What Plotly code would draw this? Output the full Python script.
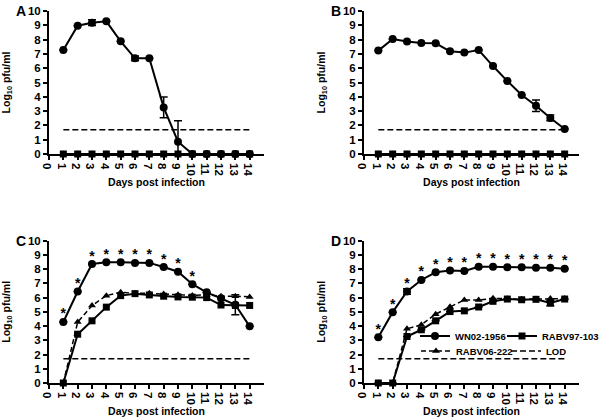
import plotly.graph_objects as go

days = [1, 2, 3, 4, 5, 6, 7, 8, 9, 10, 11, 12, 13, 14]
x_ticks = [0, 1, 2, 3, 4, 5, 6, 7, 8, 9, 10, 11, 12, 13, 14]
y_ticks = [0, 1, 2, 3, 4, 5, 6, 7, 8, 9, 10]
lod_days = [1, 14]
lod_values = [1.7, 1.7]

# Panel A
a_wn02 = [7.27, 8.97, 9.18, 9.28, 7.88, 6.69, 6.69, 3.26, 0.86, 0, 0, 0, 0, 0]
a_wn02_err_plus = [0, 0, 0.2, 0, 0, 0.17, 0, 0.73, 1.47, 0, 0, 0, 0, 0]
a_wn02_err_minus = [0, 0, 0.2, 0, 0, 0.17, 0, 0.73, 0.86, 0, 0, 0, 0, 0]
a_rabv97 = [0, 0, 0, 0, 0, 0, 0, 0, 0, 0, 0, 0, 0, 0]
a_rabv06 = [0, 0, 0, 0, 0, 0, 0, 0, 0, 0, 0, 0, 0, 0]

# Panel B
b_wn02 = [7.23, 8.04, 7.86, 7.76, 7.74, 7.18, 7.09, 7.27, 6.15, 5.1, 4.13, 3.38, 2.52, 1.75]
b_wn02_err = [0, 0, 0, 0, 0, 0, 0, 0, 0, 0, 0, 0.4, 0.2, 0]
b_rabv97 = [0, 0, 0, 0, 0, 0, 0, 0, 0, 0, 0, 0, 0, 0]
b_rabv06 = [0, 0, 0, 0, 0, 0, 0, 0, 0, 0, 0, 0, 0, 0]

# Panel C
c_wn02 = [4.29, 6.43, 8.36, 8.48, 8.48, 8.44, 8.44, 8.15, 7.82, 6.94, 6.37, 5.95, 5.5, 3.98]
c_wn02_err = [0, 0, 0, 0, 0, 0, 0, 0, 0, 0, 0, 0, 0.7, 0]
c_rabv97 = [0, 3.43, 4.37, 5.33, 6.14, 6.28, 6.19, 6.1, 6.05, 6.03, 6.0, 5.48, 5.45, 5.45]
c_rabv06 = [0, 4.28, 5.44, 6.14, 6.38, 6.3, 6.3, 6.25, 6.2, 6.15, 6.2, 6.1, 6.1, 6.05]
c_signif_days = [1, 2, 3, 4, 5, 6, 7, 8, 9, 10]
c_signif_vals = [4.29, 6.43, 8.36, 8.48, 8.48, 8.44, 8.44, 8.15, 7.82, 6.94]

# Panel D
d_wn02 = [3.22, 4.98, 6.43, 7.24, 7.78, 7.9, 7.87, 8.17, 8.17, 8.13, 8.13, 8.1, 8.1, 8.03]
d_wn02_err = [0, 0, 0.2, 0, 0, 0, 0, 0, 0, 0, 0, 0, 0, 0]
d_rabv97 = [0, 0, 3.27, 3.74, 4.37, 5.02, 5.07, 5.34, 5.74, 5.9, 5.85, 5.88, 5.62, 5.9]
d_rabv97_err = [0, 0, 0, 0, 0, 0, 0, 0, 0, 0, 0, 0, 0.2, 0]
d_rabv06 = [0, 0, 3.81, 4.09, 4.84, 5.35, 5.84, 5.83, 5.95, 5.92, 5.88, 5.9, 5.93, 5.93]
d_signif_days = [1, 2, 3, 4, 5, 6, 7, 8, 9, 10, 11, 12, 13, 14]
d_signif_vals = [3.22, 4.98, 6.43, 7.24, 7.78, 7.9, 7.87, 8.17, 8.17, 8.13, 8.13, 8.1, 8.1, 8.03]

FONT = "Liberation Sans, Arial, sans-serif"
BLACK = "#000000"

panels = [
    dict(name="A", xa="x", ya="y", wn=a_wn02, wn_ep=a_wn02_err_plus, wn_em=a_wn02_err_minus,
         r97=a_rabv97, r97_e=None, r06=a_rabv06, sig=None),
    dict(name="B", xa="x2", ya="y2", wn=b_wn02, wn_ep=b_wn02_err, wn_em=b_wn02_err,
         r97=b_rabv97, r97_e=None, r06=b_rabv06, sig=None),
    dict(name="C", xa="x3", ya="y3", wn=c_wn02, wn_ep=c_wn02_err, wn_em=c_wn02_err,
         r97=c_rabv97, r97_e=None, r06=c_rabv06, sig=(c_signif_days, c_signif_vals)),
    dict(name="D", xa="x4", ya="y4", wn=d_wn02, wn_ep=d_wn02_err, wn_em=d_wn02_err,
         r97=d_rabv97, r97_e=d_rabv97_err, r06=d_rabv06, sig=(d_signif_days, d_signif_vals)),
]

fig = go.Figure()

def err(arr_p, arr_m):
    return dict(type="data", array=arr_p, arrayminus=arr_m, symmetric=False,
                color=BLACK, thickness=1.5, width=4, visible=True)

for p in panels:
    is_d = p["name"] == "D"
    fig.add_trace(go.Scatter(
        x=lod_days, y=lod_values, mode="lines", name="LOD",
        line=dict(color=BLACK, width=1.5, dash="6px,3px"),
        xaxis=p["xa"], yaxis=p["ya"], showlegend=is_d,
        legend="legend4", cliponaxis=False))
    fig.add_trace(go.Scatter(
        x=days, y=p["r06"], mode="lines+markers", name="RABV06-222",
        line=dict(color=BLACK, width=1.5, dash="5px,3px"),
        marker=dict(symbol="triangle-up", size=7, color=BLACK),
        xaxis=p["xa"], yaxis=p["ya"], showlegend=is_d,
        legend="legend3", cliponaxis=False))
    fig.add_trace(go.Scatter(
        x=days, y=p["r97"], mode="lines+markers", name="RABV97-103",
        line=dict(color=BLACK, width=2),
        marker=dict(symbol="square", size=7, color=BLACK),
        error_y=err(p["r97_e"], p["r97_e"]) if p["r97_e"] else None,
        xaxis=p["xa"], yaxis=p["ya"], showlegend=is_d,
        legend="legend2", cliponaxis=False))
    fig.add_trace(go.Scatter(
        x=days, y=p["wn"], mode="lines+markers", name="WN02-1956",
        line=dict(color=BLACK, width=2),
        marker=dict(symbol="circle", size=8, color=BLACK),
        error_y=err(p["wn_ep"], p["wn_em"]),
        xaxis=p["xa"], yaxis=p["ya"], showlegend=is_d,
        legend="legend", cliponaxis=False))
    if p["sig"]:
        fig.add_trace(go.Scatter(
            x=p["sig"][0], y=p["sig"][1], mode="text", text=["*"] * len(p["sig"][0]),
            textposition="top center",
            textfont=dict(family=FONT, size=14, color=BLACK, weight="bold"),
            xaxis=p["xa"], yaxis=p["ya"], showlegend=False, cliponaxis=False,
            hoverinfo="skip"))

xdom_left = [49 / 600, 264 / 600]
xdom_right = [364 / 600, 579 / 600]
ydom_top = [(418 - 154) / 418, (418 - 11) / 418]
ydom_bot = [(418 - 383) / 418, (418 - 240.7) / 418]

def xaxis(domain, anchor):
    return dict(domain=domain, anchor=anchor, range=[0, 15], tickmode="array",
                tickvals=x_ticks, ticks="outside", ticklen=4, tickwidth=1.5,
                tickcolor=BLACK, showline=True, linewidth=2, linecolor=BLACK,
                showgrid=False, zeroline=False, automargin=False,
                ticklabelstandoff=-5,
                tickfont=dict(family=FONT, size=11.5, color=BLACK, weight="bold"),
                title=dict(text="Days post infection", standoff=2,
                           font=dict(family=FONT, size=10.5, color=BLACK, weight="bold")))

def yaxis(domain, anchor):
    return dict(domain=domain, anchor=anchor, range=[0, 10], tickmode="array",
                tickvals=y_ticks, ticks="outside", ticklen=4, tickwidth=1.5,
                tickcolor=BLACK, showline=True, linewidth=2, linecolor=BLACK,
                showgrid=False, zeroline=False, automargin=False,
                tickfont=dict(family=FONT, size=11.5, color=BLACK, weight="bold"),
                title=dict(text="Log<sub>10</sub> pfu/ml", standoff=15,
                           font=dict(family=FONT, size=10.5, color=BLACK, weight="bold")))

legend_common = dict(orientation="h", xanchor="left", yanchor="middle",
                     font=dict(family=FONT, size=9.5, color=BLACK, weight="bold"),
                     bgcolor="rgba(0,0,0,0)", itemwidth=30)

fig.update_layout(
    width=600, height=418, autosize=False,
    margin=dict(l=0, r=0, t=0, b=0, autoexpand=False),
    paper_bgcolor="white", plot_bgcolor="white",
    font=dict(family=FONT, color=BLACK),
    xaxis=xaxis(xdom_left, "y"), yaxis=yaxis(ydom_top, "x"),
    xaxis2=xaxis(xdom_right, "y2"), yaxis2=yaxis(ydom_top, "x2"),
    xaxis3=xaxis(xdom_left, "y3"), yaxis3=yaxis(ydom_bot, "x3"),
    xaxis4=xaxis(xdom_right, "y4"), yaxis4=yaxis(ydom_bot, "x4"),
    legend=dict(legend_common, x=415 / 600, y=1 - 336 / 418),
    legend2=dict(legend_common, x=502 / 600, y=1 - 336 / 418),
    legend3=dict(legend_common, x=416 / 600, y=1 - 351 / 418),
    legend4=dict(legend_common, x=506 / 600, y=1 - 351 / 418),
    showlegend=True,
)

letters = [("A", 21, 11), ("B", 336, 11), ("C", 21, 241), ("D", 336, 241)]
for t, px, py in letters:
    fig.add_annotation(text="<b>%s</b>" % t, x=px / 600, y=1 - py / 418, xref="paper", yref="paper",
                       showarrow=False, xanchor="center", yanchor="middle",
                       font=dict(family=FONT, size=14, color=BLACK))

fig.write_html("out.html", config={"displayModeBar": False},
               post_script="document.body.style.margin='0';")
